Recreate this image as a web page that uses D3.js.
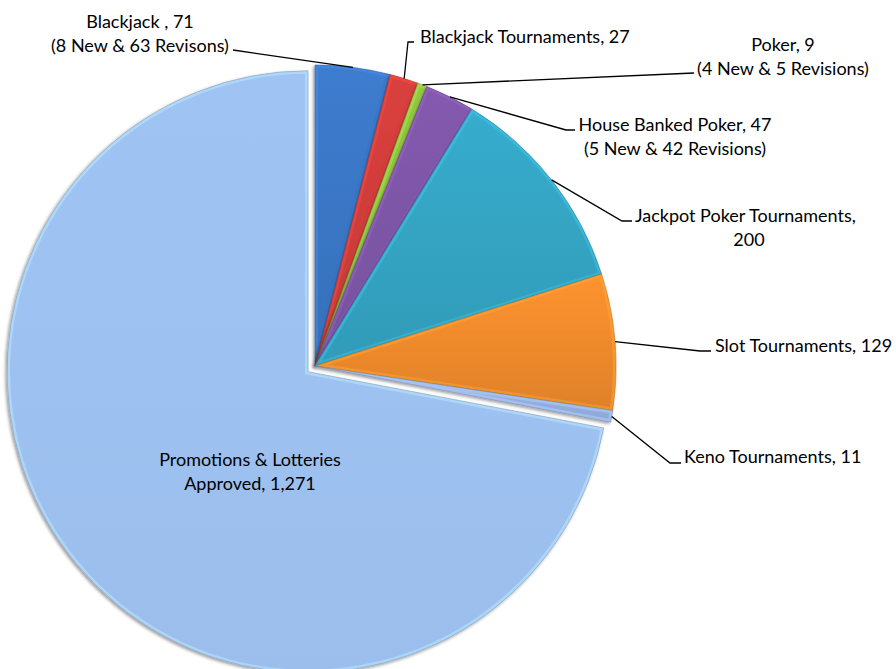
<!DOCTYPE html>
<html>
<head>
<meta charset="utf-8">
<script src="https://cdn.jsdelivr.net/npm/d3@7"></script>
<style>
  body { margin: 0; background: #fff; }
  svg text { font-family: Lato, "Open Sans", sans-serif; font-size: 18px; fill: #000; }
</style>
</head>
<body>
<div id="chart"></div>
<script>
// data
const categories = [
  "Blackjack",
  "Blackjack Tournaments",
  "Poker",
  "House Banked Poker",
  "Jackpot Poker Tournaments",
  "Slot Tournaments",
  "Keno Tournaments",
  "Promotions & Lotteries Approved",
];
const values = [71, 27, 9, 47, 200, 129, 11, 1271];
const labelLines = [
  ["Blackjack , 71", "(8 New & 63 Revisons)"],
  ["Blackjack Tournaments, 27"],
  ["Poker, 9", "(4 New & 5 Revisions)"],
  ["House Banked Poker, 47", "(5 New & 42 Revisions)"],
  ["Jackpot Poker Tournaments,", "200"],
  ["Slot Tournaments, 129"],
  ["Keno Tournaments, 11"],
  ["Promotions & Lotteries", "Approved, 1,271"],
];
const colors = ["#3a76c4", "#cf3d3a", "#8dbf3f", "#7d55a6", "#34a3c2", "#ee8a2c", "#94aee0", "#9dc1f0"];

// layout
const width = 896, height = 669;
const cx = 315, cy = 366, radius = 301;
const explode = [0, 0, 0, 0, 0, 0, 0, 9];
const shade = [0.15, 0.15, 0.15, 0.15, 0.15, 0.18, 0.1, 0.04];

// label placement: text anchor, x, first baseline, leader elbow points (null = inside label)
const labelLayout = [
  { anchor: "middle", x: 140, y: 28, elbow: [[233, 50]] },
  { anchor: "start", x: 420, y: 43, elbow: [[414, 42], [408, 42]] },
  { anchor: "middle", x: 783, y: 51, elbow: [[694, 73]] },
  { anchor: "middle", x: 675, y: 131, elbow: [[575, 130], [566, 130]] },
  { anchor: "start", x: 635, y: 222, elbow: [[632, 221], [622, 221]], secondX: 749, secondAnchor: "middle" },
  { anchor: "start", x: 715, y: 352, elbow: [[711, 351], [700, 351]] },
  { anchor: "start", x: 684, y: 463, elbow: [[681, 463], [670, 463]] },
  { anchor: "middle", x: 250, y: 466, elbow: null },
];
const lineHeight = 23.5;

const data = categories.map((c, i) => ({ key: c, value: values[i], i }));

const svg = d3.select("#chart").append("svg")
  .attr("width", width)
  .attr("height", height);

const defs = svg.append("defs");
defs.append("filter")
  .attr("id", "shadow")
  .attr("x", "-10%").attr("y", "-10%").attr("width", "120%").attr("height", "120%")
  .append("feDropShadow")
  .attr("dx", -1.5).attr("dy", 1.5).attr("stdDeviation", 1.5)
  .attr("flood-color", "#000").attr("flood-opacity", 0.4);

const pieGen = d3.pie().value(d => d.value).sort(null);
const arcGen = d3.arc().innerRadius(0).outerRadius(radius);
const arcs = pieGen(data);

const graph = svg.append("g")
  .attr("transform", `translate(${cx},${cy})`);

const offset = d => {
  const a = (d.startAngle + d.endAngle) / 2;
  const e = explode[d.data.i];
  return [Math.sin(a) * e, -Math.cos(a) * e];
};

arcs.forEach(d => {
  const c = d3.color(colors[d.data.i]);
  const s = shade[d.data.i];
  const g = defs.append("linearGradient")
    .attr("id", `grad${d.data.i}`)
    .attr("x1", 0).attr("y1", 0).attr("x2", 0).attr("y2", 1);
  g.append("stop").attr("offset", "0%").attr("stop-color", c.brighter(s));
  g.append("stop").attr("offset", "100%").attr("stop-color", c.darker(s));
  defs.append("clipPath").attr("id", `clip${d.data.i}`)
    .append("path").attr("d", arcGen(d));
});

const slices = graph.selectAll("g.slice")
  .data(arcs)
  .join("g")
  .attr("class", "slice")
  .attr("transform", d => `translate(${offset(d)})`)
  .attr("filter", "url(#shadow)");

slices.append("path")
  .attr("d", arcGen)
  .attr("fill", d => `url(#grad${d.data.i})`);

// bevel highlight along the edges
slices.append("path")
  .attr("d", arcGen)
  .attr("fill", "none")
  .attr("clip-path", d => `url(#clip${d.data.i})`)
  .attr("stroke", d => d3.color(colors[d.data.i]).brighter(0.6))
  .attr("stroke-opacity", 0.45)
  .attr("stroke-width", 6);

slices.append("path")
  .attr("d", arcGen)
  .attr("fill", "none")
  .attr("stroke", d => d3.color(colors[d.data.i]).darker(0.8))
  .attr("stroke-opacity", 0.6)
  .attr("stroke-width", 0.8);

// leader lines
const outerArc = d3.arc().innerRadius(radius).outerRadius(radius);
arcs.forEach(d => {
  const lay = labelLayout[d.data.i];
  if (!lay.elbow) return;
  const [px, py] = outerArc.centroid(d);
  const [ox, oy] = offset(d);
  const pts = lay.elbow.concat([[cx + px + ox, cy + py + oy]]);
  svg.append("path")
    .attr("d", d3.line()(pts))
    .attr("fill", "none")
    .attr("stroke", "#000")
    .attr("stroke-width", 1.3);
});

// labels
const labels = svg.append("g");
data.forEach(d => {
  const lay = labelLayout[d.i];
  labelLines[d.i].forEach((t, j) => {
    const second = j > 0 && lay.secondX !== undefined;
    labels.append("text")
      .attr("x", second ? lay.secondX : lay.x)
      .attr("y", lay.y + j * lineHeight)
      .attr("text-anchor", second ? lay.secondAnchor : lay.anchor)
      .text(t);
  });
});
</script>
</body>
</html>
